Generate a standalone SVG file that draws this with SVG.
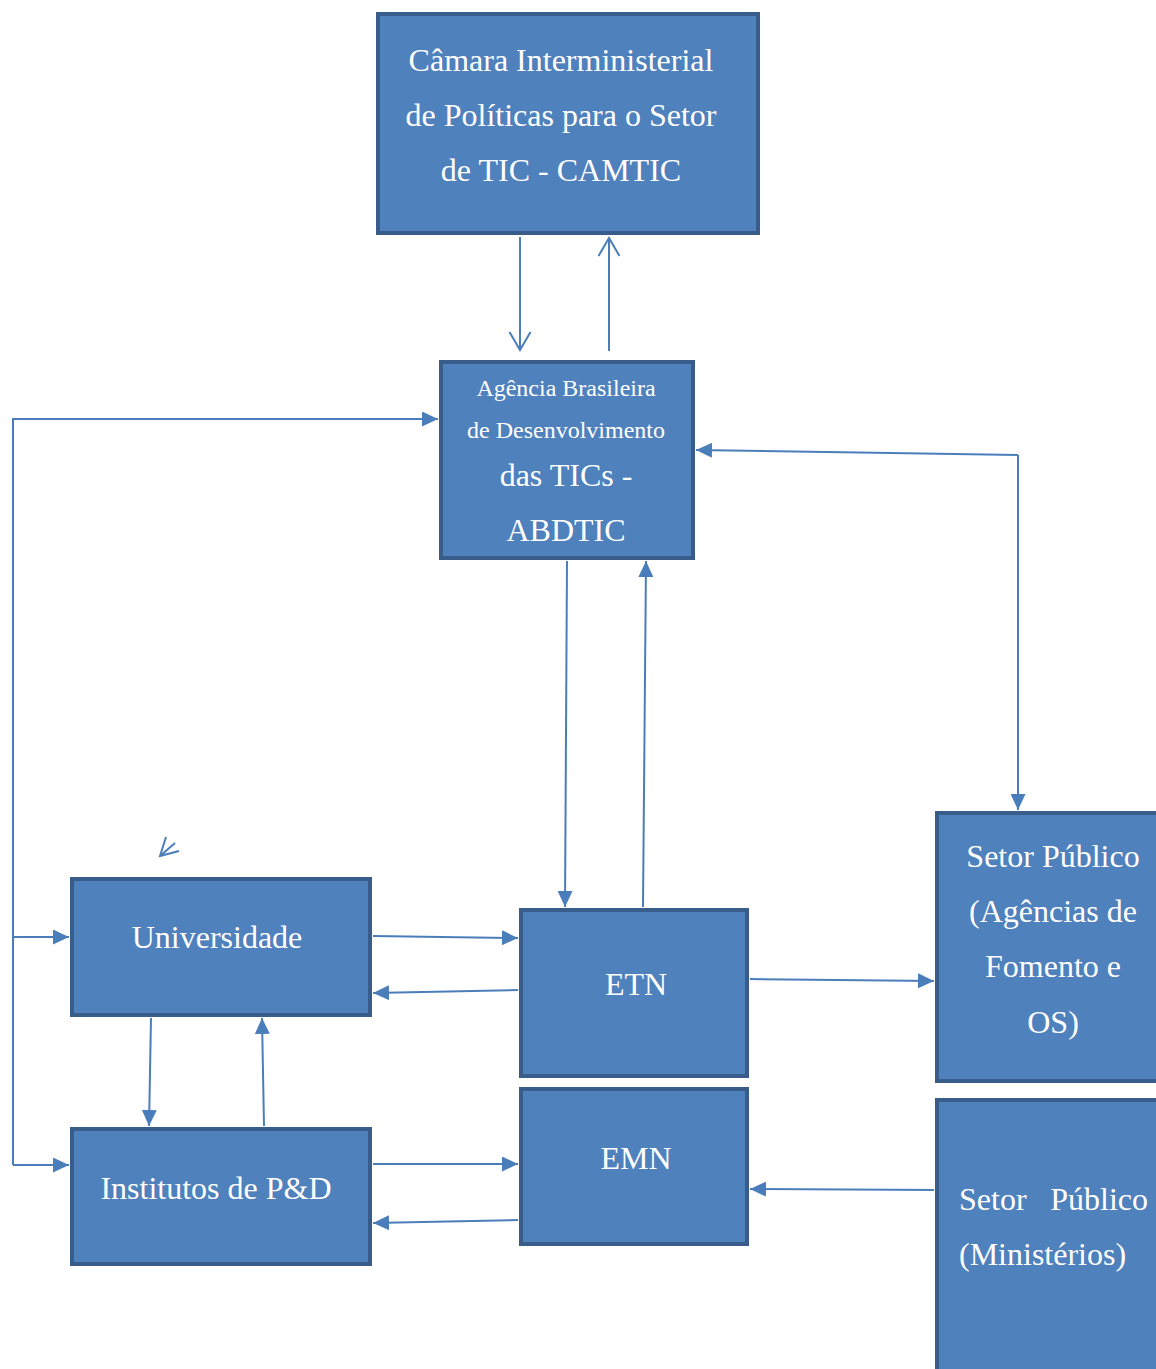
<svg xmlns="http://www.w3.org/2000/svg" width="1156" height="1369" viewBox="0 0 1156 1369">
  <style>
    .box { fill: #4F81BD; stroke: #385D8A; stroke-width: 4; }
    .lbl { fill: #FFFFFF; font-family: "Liberation Serif", "Times New Roman", serif; text-anchor: middle; }
    .big { font-size: 32px; }
    .small { font-size: 24px; }
    .link { fill: none; stroke: #4A7EBB; stroke-width: 2; }
    .solid { marker-end: url(#tri); }
    .open { marker-end: url(#vee); }
  </style>
  <defs>
    <marker id="tri" markerUnits="userSpaceOnUse" markerWidth="16" markerHeight="15" refX="16" refY="7.5" orient="auto">
      <path d="M0,0 L16,7.5 L0,15 Z" fill="#4A7EBB"/>
    </marker>
    <marker id="vee" markerUnits="userSpaceOnUse" markerWidth="22" markerHeight="24" refX="19" refY="12" orient="auto">
      <path d="M1,1.5 L19,12 L1,22.5" fill="none" stroke="#4A7EBB" stroke-width="2"/>
    </marker>
  </defs>

  <!-- connectors -->
  <g id="connectors">
    <line class="link open" x1="520" y1="237" x2="520" y2="350"/>
    <line class="link open" x1="609" y1="351" x2="609" y2="238"/>
    <polyline class="link solid" points="13,1165 13,419 438,419"/>
    <polyline class="link solid" points="13,937 69,937"/>
    <polyline class="link solid" points="13,1165 69,1165"/>
    <line class="link solid" x1="567" y1="561" x2="565" y2="907"/>
    <line class="link solid" x1="643" y1="907" x2="646" y2="561"/>
    <polyline class="link solid" points="1018,455 696,450"/>
    <polyline class="link solid" points="1018,455 1018,810"/>
    <line class="link solid" x1="373" y1="936" x2="518" y2="938"/>
    <line class="link solid" x1="518" y1="990" x2="373" y2="993"/>
    <line class="link solid" x1="750" y1="979" x2="934" y2="981"/>
    <line class="link solid" x1="151" y1="1018" x2="149" y2="1126"/>
    <line class="link solid" x1="264" y1="1126" x2="262" y2="1018"/>
    <line class="link solid" x1="373" y1="1164" x2="518" y2="1164"/>
    <line class="link solid" x1="518" y1="1220" x2="373" y2="1223"/>
    <line class="link solid" x1="934" y1="1190" x2="750" y2="1189"/>
    <!-- short open arrow above Universidade -->
    <path class="link" d="M175,843 L160,856 M166,837 L160,856 L179,851"/>
  </g>

  <g id="camtic">
    <rect class="box" x="378" y="14" width="380" height="219"/>
    <text class="lbl big" x="561" y="71">Câmara Interministerial</text>
    <text class="lbl big" x="561" y="126">de Políticas para o Setor</text>
    <text class="lbl big" x="561" y="181">de TIC - CAMTIC</text>
  </g>

  <g id="abdtic">
    <rect class="box" x="441" y="362" width="252" height="196"/>
    <text class="lbl small" x="566" y="396">Agência Brasileira</text>
    <text class="lbl small" x="566" y="438">de Desenvolvimento</text>
    <text class="lbl big" x="566" y="486">das TICs -</text>
    <text class="lbl big" x="566" y="541">ABDTIC</text>
  </g>

  <g id="universidade">
    <rect class="box" x="72" y="879" width="298" height="136"/>
    <text class="lbl big" x="217" y="948">Universidade</text>
  </g>

  <g id="institutos">
    <rect class="box" x="72" y="1129" width="298" height="135"/>
    <text class="lbl big" x="216" y="1199">Institutos de P&amp;D</text>
  </g>

  <g id="etn">
    <rect class="box" x="521" y="910" width="226" height="166"/>
    <text class="lbl big" x="636" y="995">ETN</text>
  </g>

  <g id="emn">
    <rect class="box" x="521" y="1089" width="226" height="155"/>
    <text class="lbl big" x="636" y="1169">EMN</text>
  </g>

  <g id="setor-fomento">
    <rect class="box" x="937" y="813" width="230" height="268"/>
    <text class="lbl big" x="1053" y="867">Setor Público</text>
    <text class="lbl big" x="1053" y="922">(Agências de</text>
    <text class="lbl big" x="1053" y="977">Fomento e</text>
    <text class="lbl big" x="1053" y="1033">OS)</text>
  </g>

  <g id="setor-ministerios">
    <rect class="box" x="937" y="1100" width="230" height="290"/>
    <text class="lbl big" x="959" y="1210" style="text-anchor:start">Setor</text>
    <text class="lbl big" x="1148" y="1210" style="text-anchor:end">Público</text>
    <text class="lbl big" x="959" y="1265" style="text-anchor:start">(Ministérios)</text>
  </g>
</svg>
